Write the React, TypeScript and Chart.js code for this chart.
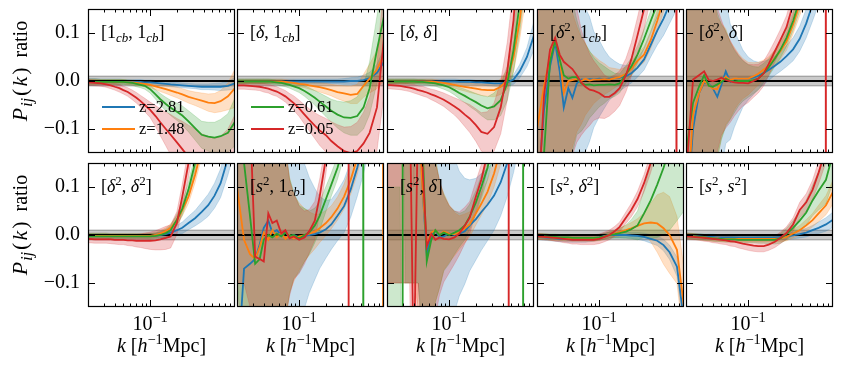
import React, { useEffect, useRef } from 'react';
import { Chart, registerables } from 'chart.js';

Chart.register(...registerables);

// ---------------- data ----------------
// wavenumbers k [h/Mpc]
const K = [0.02, 0.024, 0.028, 0.032, 0.036, 0.04, 0.045, 0.05, 0.056, 0.063, 0.07, 0.078, 0.087, 0.1, 0.115, 0.13, 0.15, 0.17, 0.2, 0.23, 0.27, 0.32, 0.38, 0.45, 0.53, 0.62, 0.75, 0.9];
const X_MIN = 0.02;
const X_MAX = 0.9;
const Y_MIN = -0.15;
const Y_MAX = 0.15;
const Y_TICKS = [-0.1, 0, 0.1];
const X_MAJOR_TICKS = [0.1];
const X_MINOR_TICKS = [0.03, 0.04, 0.05, 0.06, 0.07, 0.08, 0.09, 0.2, 0.3, 0.4, 0.5, 0.6, 0.7, 0.8];
const X_TICK_LABELS = ['10^{−1}'];
const REF_BAND = 0.01;
const PER_MILLE = 1000; // series values below are ratio x 1000
const Z_LABELS = ['z=2.81', 'z=1.48', 'z=0.61', 'z=0.05'];
const LEGEND_PANEL = [0, 0, 1, 1];
const PANEL_LABELS = [
  '[1_{cb}, 1_{cb}]', '[δ, 1_{cb}]', '[δ, δ]', '[δ^{2}, 1_{cb}]', '[δ^{2}, δ]',
  '[δ^{2}, δ^{2}]', '[s^{2}, 1_{cb}]', '[s^{2}, δ]', '[s^{2}, δ^{2}]', '[s^{2}, s^{2}]',
];
// [panel, series, k] where the ratio jumps from +inf to -inf
const POLES = [[3, 3, 0.735], [4, 3, 0.745], [6, 3, 0.36], [6, 2, 0.525], [6, 1, 0.88], [7, 3, 0.467], [7, 2, 0.03], [7, 2, 0.68]];

// panel 0 [1cb,1cb]
const p0_z281 = [-2,-2,-2,-2,-2,-2,-2,-2,-2,-2,-2,-2,-3,-3,-4,-5,-6,-7,-8,-9,-10,-11,-12,-12,-12,-12,-10,-5];
const p0_z281_e = [7,7,6,6,6,6,6,5,5,5,5,5,5,5,5,5,5,5,5,5,5,5,6,6,7,8,9,12];
const p0_z148 = [-2,-2,-2,-2,-2,-2,-2,-2,-3,-3,-4,-5,-6,-8,-11,-14,-17,-20,-24,-28,-33,-37,-41,-45,-46,-42,-32,-15];
const p0_z148_e = [6,6,5,5,5,5,5,5,5,5,5,5,6,6,7,8,9,10,11,12,13,14,16,18,20,22,28,40];
const p0_z061 = [-2,-2,-2,-2,-2,-2,-2,-2,-3,-4,-6,-8,-10,-17,-28,-38,-48,-56,-64,-72,-84,-98,-112,-116,-118,-115,-108,-85];
const p0_z061_e = [6,6,5,5,5,5,5,5,5,5,6,6,7,8,10,12,14,16,18,20,22,25,28,30,32,35,40,50];
const p0_z005 = [-3,-4,-5,-7,-9,-12,-15,-19,-23,-29,-35,-42,-50,-60,-73,-86,-100,-112,-128,-142,-158,-175,-195,-210,-220,-220,-210,-190];
const p0_z005_e = [6,6,6,6,7,7,8,8,9,10,11,12,14,16,22,28,35,42,50,58,66,75,85,95,100,105,110,120];
// panel 1 [delta,1cb]
const p1_z281 = [-1,-1,-1,-1,-1,-1,-1,-1,-1,-1,-1,-1,-1,-1,-1,-1,-1,-1,-1,-1,-1,-1,0,0,2,6,17,40];
const p1_z281_e = [5,5,5,5,5,5,5,5,5,5,5,5,5,5,5,5,5,5,5,5,5,6,7,8,10,12,18,28];
const p1_z148 = [-1,-1,-1,-1,-1,-1,-1,-1,-1,-1,-2,-3,-4,-6,-7,-9,-11,-13,-16,-19,-23,-26,-29,-27,-10,5,24,55];
const p1_z148_e = [5,5,5,5,5,5,5,5,5,5,5,5,6,6,7,8,9,10,11,12,14,16,18,20,24,30,40,55];
const p1_z061 = [-1,-1,-1,-1,-1,-1,-1,-2,-3,-4,-6,-8,-11,-15,-21,-27,-35,-43,-53,-62,-70,-76,-77,-73,-55,-15,65,135];
const p1_z061_e = [5,5,5,5,5,5,5,5,5,6,6,7,8,9,11,13,15,18,21,24,28,32,36,40,45,55,70,90];
const p1_z005 = [-9,-9,-10,-11,-12,-14,-16,-19,-22,-27,-32,-39,-46,-57,-70,-81,-93,-103,-113,-125,-136,-146,-150,-146,-130,-108,-55,90];
const p1_z005_e = [8,8,8,8,8,9,9,10,10,11,12,13,15,17,20,23,27,31,35,40,45,50,55,60,65,75,90,120];
// panel 2 [delta,delta]
const p2_z281 = [-1,-1,-1,-1,-1,-1,-1,-1,-1,-1,-1,-1,-1,-1,-1,-2,-2,-2,-3,-3,-4,-5,-5,-3,3,20,50,95];
const p2_z281_e = [5,5,5,5,5,5,5,5,5,5,5,5,5,5,5,5,5,5,5,5,6,6,7,8,10,14,20,30];
const p2_z148 = [-1,-1,-1,-1,-1,-1,-1,-1,-1,-1,-2,-3,-4,-6,-8,-10,-12,-14,-16,-18,-19,-19,-12,3,50,125,250,400];
const p2_z148_e = [5,5,5,5,5,5,5,5,5,5,5,5,6,6,7,8,9,10,11,12,13,14,16,20,30,40,60,80];
const p2_z061 = [-1,-1,-1,-1,-1,-1,-2,-2,-3,-4,-5,-7,-9,-13,-19,-25,-31,-37,-44,-51,-57,-53,-40,-5,65,160,300,450];
const p2_z061_e = [5,5,5,5,5,5,5,5,5,6,6,7,8,9,10,12,14,16,18,21,24,28,32,36,45,60,80,100];
const p2_z005 = [-8,-9,-10,-12,-14,-16,-19,-21,-24,-28,-31,-35,-39,-46,-53,-60,-70,-78,-92,-106,-110,-96,-55,20,127,300,500,700];
const p2_z005_e = [8,8,8,8,8,9,9,10,10,11,12,13,14,16,18,21,25,29,34,40,46,50,55,60,70,90,120,150];
// panel 3 [delta^2,1cb]
const p3_z281 = [-250,-60,30,80,20,-55,-15,-35,-5,3,2,4,3,5,4,5,6,7,10,16,28,45,75,105,130,160,200,260];
const p3_z281_e = [400,400,400,400,400,400,400,250,200,170,150,130,100,80,60,45,35,28,22,20,20,22,25,30,35,40,50,60];
const p3_z148 = [-100,-10,50,85,50,-25,0,2,4,0,4,1,3,3,4,3,6,8,15,25,42,55,85,125,170,220,280,350];
const p3_z148_e = [400,400,400,400,400,400,200,140,110,90,75,60,50,40,32,25,20,16,14,14,15,16,18,22,26,30,40,50];
const p3_z061 = [-300,-150,40,85,45,12,5,8,8,-5,-8,-7,-9,-8,-8,-7,-8,-5,14,30,55,88,125,160,220,280,350,400];
const p3_z061_e = [400,400,400,400,400,400,220,160,120,100,85,70,58,46,38,30,24,20,18,18,18,20,22,26,30,35,45,55];
const p3_z005 = [-300,-30,65,90,55,40,32,25,12,-3,-12,-18,-20,-25,-33,-33,-25,-15,12,45,95,150,220,300,400,500,-500,-400];
const p3_z005_e = [400,400,400,400,400,400,250,180,140,110,90,75,62,52,45,40,38,36,35,35,38,42,48,55,60,70,80,90];
// panel 4 [delta^2,delta]
const p4_z281 = [-300,-100,-26,-3,-6,-15,-33,-8,20,-2,4,5,5,5,7,11,17,23,32,40,52,66,88,120,160,200,260,320];
const p4_z281_e = [400,400,400,400,400,300,220,180,150,120,100,80,60,45,35,28,24,22,20,20,22,24,26,30,35,40,50,60];
const p4_z148 = [-300,-70,-26,0,-8,-16,-17,0,9,2,5,5,5,5,10,15,24,32,48,62,82,118,160,200,260,320,400,450];
const p4_z148_e = [400,400,400,400,300,200,150,120,100,80,65,52,42,34,28,24,20,18,17,17,18,20,24,28,32,38,45,55];
const p4_z061 = [-150,-45,-12,12,-10,-12,-7,-2,5,0,-1,0,0,0,2,5,17,28,47,65,90,125,170,230,300,380,450,500];
const p4_z061_e = [400,400,400,400,300,200,150,120,100,80,65,52,42,34,28,24,20,18,17,17,18,20,24,28,32,38,45,55];
const p4_z005 = [-200,3,12,20,2,0,3,7,2,-1,-3,-4,-4,-5,0,5,16,35,62,85,112,160,230,300,380,450,-450,-400];
const p4_z005_e = [400,400,400,400,300,200,150,120,100,85,70,58,48,40,34,30,26,24,22,22,24,26,30,34,40,46,55,65];
// panel 5 [delta^2,delta^2]
const p5_z281 = [-2,-2,-2,-2,-2,-2,-2,-2,-2,-2,-2,-2,-2,-2,-1,0,2,5,10,15,25,35,48,62,82,108,160,220];
const p5_z281_e = [6,6,6,6,5,5,5,5,5,5,5,5,5,5,5,6,7,8,10,12,14,16,20,23,26,30,35,40];
const p5_z148 = [-2,-2,-2,-2,-2,-2,-2,-2,-2,-2,-2,-2,-2,-2,0,3,8,15,30,52,80,125,180,250,330,400,480,550];
const p5_z148_e = [6,6,6,6,5,5,5,5,5,5,5,5,5,5,5,6,7,8,10,12,14,16,18,20,24,28,34,40];
const p5_z061 = [-3,-3,-3,-3,-3,-3,-3,-3,-3,-3,-3,-3,-3,-3,-2,0,4,10,32,55,95,150,220,300,380,450,520,560];
const p5_z061_e = [6,6,6,6,5,5,5,5,5,5,5,5,5,6,6,7,8,10,12,14,16,18,20,24,28,32,38,45];
const p5_z005 = [-8,-9,-9,-9,-9,-10,-10,-10,-11,-11,-12,-12,-12,-12,-11,-9,-6,-3,25,80,150,240,330,420,500,560,620,680];
const p5_z005_e = [8,8,8,8,9,9,10,10,11,12,13,14,16,18,20,22,24,24,24,26,30,35,40,45,50,55,60,70];
// panel 6 [s^2,1cb]
const p6_z281 = [-300,-70,-60,-50,-20,15,30,5,10,0,5,-3,0,-5,-2,0,2,5,12,22,40,60,95,140,190,250,300,350];
const p6_z281_e = [400,400,400,400,400,400,400,400,400,350,300,260,220,180,150,120,95,75,60,52,52,55,58,60,62,65,68,70];
const p6_z148 = [100,-10,-40,-50,-25,5,-10,10,-5,5,-8,0,-7,-3,0,3,7,14,25,37,55,80,115,160,220,300,400,-400];
const p6_z148_e = [400,400,400,400,400,400,400,400,400,250,180,120,90,70,55,45,36,30,26,24,24,26,30,34,40,46,55,65];
const p6_z061 = [300,150,40,-60,-50,-10,0,-5,3,-3,5,-2,0,-8,0,5,20,40,75,105,140,190,260,350,-350,-300,-250,-250];
const p6_z061_e = [400,400,400,400,400,400,400,400,400,250,180,120,90,70,55,45,36,30,26,24,24,26,30,34,40,46,55,65];
const p6_z005 = [300,300,250,-45,-50,-55,45,25,30,3,10,-7,-3,-10,-5,8,30,80,160,250,320,400,-400,-350,-300,-300,-300,-300];
const p6_z005_e = [400,400,400,400,400,400,400,400,400,250,180,120,90,70,55,45,40,36,32,30,30,32,35,40,45,50,55,65];
// panel 7 [s^2,delta]
const p7_z281 = [300,300,300,300,300,300,300,100,-40,2,10,-5,-3,3,0,3,8,20,33,48,63,82,110,150,200,260,320,380];
const p7_z281_e = [400,400,400,400,400,400,400,400,400,400,350,300,250,200,160,130,110,95,85,80,75,72,70,70,70,70,70,70];
const p7_z148 = [300,300,300,300,300,300,250,100,-20,5,10,0,7,3,2,5,14,22,45,65,90,128,180,250,330,400,480,550];
const p7_z148_e = [400,400,400,400,400,400,400,400,400,300,150,110,80,60,45,35,30,26,24,24,25,28,32,36,40,45,50,60];
const p7_z061 = [-300,-300,-300,300,300,300,300,200,-55,-10,10,0,5,0,5,10,20,38,68,100,140,200,280,350,420,500,-500,-400];
const p7_z061_e = [400,400,400,400,400,400,400,400,400,300,150,110,80,60,45,35,30,26,24,24,25,28,32,36,40,45,50,60];
const p7_z005 = [300,300,300,300,300,-300,300,150,-24,2,-10,-5,-8,-9,-5,3,20,36,80,115,170,250,340,430,-450,-400,-350,-300];
const p7_z005_e = [400,400,400,400,400,400,400,400,400,300,160,120,90,70,55,45,38,34,32,32,34,38,42,48,55,60,65,70];
// panel 8 [s^2,delta^2]
const p8_z281 = [-4,-5,-6,-7,-8,-8,-9,-9,-9,-9,-9,-8,-7,-5,-2,0,0,0,0,-1,-2,-4,-8,-12,-21,-36,-66,-180];
const p8_z281_e = [6,6,6,6,6,6,6,6,6,6,6,6,6,6,6,6,6,6,6,6,7,8,9,10,12,15,20,30];
const p8_z148 = [-3,-4,-5,-6,-6,-7,-7,-7,-7,-7,-7,-7,-7,-6,-3,0,3,6,10,14,19,24,26,24,14,0,-31,-150];
const p8_z148_e = [6,6,6,6,6,6,6,6,6,6,6,6,6,6,6,6,7,8,10,12,15,22,40,60,75,80,70,80];
const p8_z061 = [-3,-3,-4,-4,-5,-5,-5,-6,-6,-6,-6,-6,-6,-5,-3,0,2,4,7,12,20,45,72,105,140,180,230,280];
const p8_z061_e = [6,6,6,6,6,6,6,6,6,6,6,6,6,6,6,7,8,10,14,20,30,50,80,110,140,170,200,230];
const p8_z005 = [-3,-4,-5,-6,-7,-8,-9,-10,-10,-10,-10,-10,-10,-8,-4,0,8,17,36,52,75,108,150,200,250,300,360,420];
const p8_z005_e = [6,6,6,7,7,8,8,9,9,10,10,10,10,10,10,10,10,10,12,14,16,18,20,22,24,28,32,36];
// panel 9 [s^2,s^2]
const p9_z281 = [-2,-3,-3,-4,-4,-4,-5,-5,-5,-5,-5,-5,-5,-5,-5,-5,-5,-5,-5,-4,-3,-1,2,5,10,15,22,32];
const p9_z281_e = [6,6,6,6,6,6,6,6,6,6,6,6,6,6,6,6,6,6,6,6,6,7,8,9,10,12,14,16];
const p9_z148 = [-2,-3,-4,-5,-6,-7,-7,-8,-8,-8,-8,-8,-8,-8,-8,-8,-8,-8,-8,-7,-4,3,10,20,31,45,62,90];
const p9_z148_e = [6,6,6,6,6,6,6,6,6,6,6,6,6,6,6,6,6,6,6,7,8,9,10,12,14,17,20,25];
const p9_z061 = [-2,-3,-4,-5,-6,-7,-8,-8,-9,-9,-9,-10,-10,-10,-10,-10,-10,-10,-10,-7,2,15,30,47,72,92,115,170];
const p9_z061_e = [6,6,6,6,6,6,6,6,6,6,6,6,6,6,6,7,7,8,9,10,12,15,20,26,32,40,50,60];
const p9_z005 = [-3,-4,-5,-6,-7,-8,-9,-10,-11,-13,-14,-16,-18,-20,-22,-23,-23,-20,-14,-6,4,22,52,68,94,130,180,240];
const p9_z005_e = [6,6,6,7,7,8,8,9,9,10,10,11,11,12,12,12,12,12,12,12,13,14,16,18,20,24,28,34];

const PANEL_SERIES = [
  [[p0_z281, p0_z281_e], [p0_z148, p0_z148_e], [p0_z061, p0_z061_e], [p0_z005, p0_z005_e]],
  [[p1_z281, p1_z281_e], [p1_z148, p1_z148_e], [p1_z061, p1_z061_e], [p1_z005, p1_z005_e]],
  [[p2_z281, p2_z281_e], [p2_z148, p2_z148_e], [p2_z061, p2_z061_e], [p2_z005, p2_z005_e]],
  [[p3_z281, p3_z281_e], [p3_z148, p3_z148_e], [p3_z061, p3_z061_e], [p3_z005, p3_z005_e]],
  [[p4_z281, p4_z281_e], [p4_z148, p4_z148_e], [p4_z061, p4_z061_e], [p4_z005, p4_z005_e]],
  [[p5_z281, p5_z281_e], [p5_z148, p5_z148_e], [p5_z061, p5_z061_e], [p5_z005, p5_z005_e]],
  [[p6_z281, p6_z281_e], [p6_z148, p6_z148_e], [p6_z061, p6_z061_e], [p6_z005, p6_z005_e]],
  [[p7_z281, p7_z281_e], [p7_z148, p7_z148_e], [p7_z061, p7_z061_e], [p7_z005, p7_z005_e]],
  [[p8_z281, p8_z281_e], [p8_z148, p8_z148_e], [p8_z061, p8_z061_e], [p8_z005, p8_z005_e]],
  [[p9_z281, p9_z281_e], [p9_z148, p9_z148_e], [p9_z061, p9_z061_e], [p9_z005, p9_z005_e]],
];

// ---------------- layout / style ----------------
const W = 843;
const H = 372;
const COL_LEFT = [88, 237, 387, 537, 686];
const ROW_TOP = [9, 163];
const PANEL_W = 147;
const PANEL_H = 144;
const COLORS = [[31, 119, 180], [255, 127, 14], [44, 160, 44], [214, 39, 40]];
const BAND_ALPHA = 0.24;
const SERIF = '"Liberation Serif", "Times New Roman", serif';
const POLE_Y = 900;

type Seg = { t: string; it?: boolean; sc?: 'sub' | 'sup'; gap?: number; size?: number };
const Y_TITLE: Seg[] = [
  { t: 'P', it: true, size: 22 }, { t: '', gap: 1 }, { t: 'ij', it: true, sc: 'sub', size: 22 }, { t: '', gap: 2 },
  { t: '(', size: 22 }, { t: '', gap: 2 }, { t: 'k', it: true, size: 22 }, { t: '', gap: 2 }, { t: ')', size: 22 }, { t: '', gap: 10 }, { t: 'ratio' },
];
const X_TITLE: Seg[] = [{ t: 'k', it: true }, { t: '', gap: 5 }, { t: '[' }, { t: 'h', it: true }, { t: '−1', sc: 'sup' }, { t: 'Mpc]' }];

const rgba = (c: number[], a: number) => `rgba(${c[0]},${c[1]},${c[2]},${a})`;

function parseMath(s: string): Seg[] {
  const out: Seg[] = [];
  const push = (ch: string, sc?: 'sub' | 'sup') => {
    const it = /\p{L}/u.test(ch);
    const last = out[out.length - 1];
    if (last && !!last.it === it && last.sc === sc) last.t += ch;
    else out.push({ t: ch, it, sc });
  };
  let i = 0;
  while (i < s.length) {
    const c = s[i];
    if ((c === '_' || c === '^') && s[i + 1] === '{') {
      const j = s.indexOf('}', i);
      for (const ch of s.slice(i + 2, j)) push(ch, c === '_' ? 'sub' : 'sup');
      i = j + 1;
    } else {
      push(c);
      i++;
    }
  }
  return out;
}

function drawRich(ctx: CanvasRenderingContext2D, segs: Seg[], x: number, y: number, size: number, align: 'left' | 'center') {
  const parts = segs.map((s) => {
    const base = s.size || size;
    const sz = s.sc ? base * 0.72 : base;
    const font = `${s.it ? 'italic ' : ''}${sz}px ${SERIF}`;
    ctx.font = font;
    const dy = s.sc === 'sup' ? -base * 0.4 : s.sc === 'sub' ? base * 0.24 : 0;
    return { t: s.t, font, dy, w: s.gap !== undefined ? s.gap : ctx.measureText(s.t).width };
  });
  const total = parts.reduce((a, p) => a + p.w, 0);
  let cx = align === 'center' ? x - total / 2 : x;
  ctx.textAlign = 'left';
  ctx.textBaseline = 'alphabetic';
  ctx.fillStyle = '#000';
  for (const p of parts) {
    if (p.t) {
      ctx.font = p.font;
      ctx.fillText(p.t, cx, y + p.dy);
    }
    cx += p.w;
  }
}

function buildPoints(mean: number[], err: number[] | null, sign: number, poles: number[]) {
  const out: { x: number; y: number }[] = [];
  for (let i = 0; i < K.length; i++) {
    if (i > 0) {
      for (const kp of poles) {
        if (kp > K[i - 1] && kp <= K[i]) {
          const eA = err ? sign * err[i - 1] : 0;
          const eB = err ? sign * err[i] : 0;
          out.push({ x: kp, y: (Math.sign(mean[i - 1]) * POLE_Y + eA) / PER_MILLE });
          out.push({ x: kp, y: (Math.sign(mean[i]) * POLE_Y + eB) / PER_MILLE });
        }
      }
    }
    out.push({ x: K[i], y: (mean[i] + (err ? sign * err[i] : 0)) / PER_MILLE });
  }
  return out;
}

function makeChart(canvas: HTMLCanvasElement, idx: number) {
  const row = Math.floor(idx / 5);
  const col = idx % 5;
  const left = COL_LEFT[col];
  const top = ROW_TOP[row];
  const right = left + PANEL_W;
  const bottom = top + PANEL_H;
  const yAxisW = col === 0 ? 60 : 0;
  const series = PANEL_SERIES[idx];
  const polesFor = (s: number) => POLES.filter((p) => p[0] === idx && p[1] === s).map((p) => p[2]);

  const datasets: any[] = [];
  datasets.push({ data: [{ x: X_MIN, y: REF_BAND }, { x: X_MAX, y: REF_BAND }], fill: '+1', backgroundColor: 'rgba(128,128,128,0.42)', borderColor: 'rgba(90,90,90,0.6)', borderWidth: 1, order: 30 });
  datasets.push({ data: [{ x: X_MIN, y: -REF_BAND }, { x: X_MAX, y: -REF_BAND }], fill: false, borderColor: 'rgba(90,90,90,0.6)', borderWidth: 1, order: 30 });
  series.forEach(([m, e], s) => {
    const poles = polesFor(s);
    const c = COLORS[s];
    datasets.push({ data: buildPoints(m, e, 1, poles), fill: '+1', backgroundColor: rgba(c, BAND_ALPHA), borderColor: rgba(c, 0.25), borderWidth: 0.8, order: 20 - s });
    datasets.push({ data: buildPoints(m, e, -1, poles), fill: false, borderColor: rgba(c, 0.25), borderWidth: 0.8, order: 20 - s });
  });
  datasets.push({ data: [{ x: X_MIN, y: 0 }, { x: X_MAX, y: 0 }], fill: false, borderColor: '#000', borderWidth: 1.8, order: 10 });
  series.forEach(([m], s) => {
    datasets.push({ data: buildPoints(m, null, 0, polesFor(s)), fill: false, borderColor: rgba(COLORS[s], 1), borderWidth: 1.8, order: 5 - s });
  });

  const deco = {
    id: 'deco',
    afterDatasetsDraw(chart: any) {
      const ctx: CanvasRenderingContext2D = chart.ctx;
      const a = chart.chartArea;
      const xs = chart.scales.x;
      const ys = chart.scales.y;
      ctx.save();
      // clear the hairline of data that may spill just outside the frame
      ctx.clearRect(a.left - 3, a.top - 3, a.right - a.left + 6, 3);
      ctx.clearRect(a.left - 3, a.bottom, a.right - a.left + 6, 3);
      ctx.clearRect(a.left - 3, a.top, 3, a.bottom - a.top);
      ctx.clearRect(a.right, a.top, 3, a.bottom - a.top);
      ctx.strokeStyle = '#000';
      ctx.lineWidth = 1;
      ctx.beginPath();
      const xt = (v: number, len: number) => {
        const px = Math.round(xs.getPixelForValue(v)) + 0.5;
        ctx.moveTo(px, a.bottom); ctx.lineTo(px, a.bottom - len);
        ctx.moveTo(px, a.top); ctx.lineTo(px, a.top + len);
      };
      X_MINOR_TICKS.forEach((v) => xt(v, 3.5));
      X_MAJOR_TICKS.forEach((v) => xt(v, 7));
      Y_TICKS.forEach((v) => {
        const py = Math.round(ys.getPixelForValue(v)) + 0.5;
        ctx.moveTo(a.left, py); ctx.lineTo(a.left + 7, py);
        ctx.moveTo(a.right, py); ctx.lineTo(a.right - 7, py);
      });
      ctx.stroke();
      ctx.lineWidth = 1.2;
      ctx.strokeRect(a.left + 0.5, a.top + 0.5, a.right - a.left - 1, a.bottom - a.top - 1);

      drawRich(ctx, parseMath(PANEL_LABELS[idx]), a.left + 13, a.top + 29, 18, 'left');

      let r = 0;
      LEGEND_PANEL.forEach((p, s) => {
        if (p !== idx) return;
        const y = a.top + 98 + r * 22;
        ctx.strokeStyle = rgba(COLORS[s], 1);
        ctx.lineWidth = 2;
        ctx.beginPath();
        ctx.moveTo(a.left + 14, y);
        ctx.lineTo(a.left + 47, y);
        ctx.stroke();
        ctx.fillStyle = '#000';
        ctx.font = `16.5px ${SERIF}`;
        ctx.textAlign = 'left';
        ctx.textBaseline = 'middle';
        ctx.fillText(Z_LABELS[s], a.left + 51, y + 1);
        r++;
      });

      if (col === 0) {
        ctx.save();
        ctx.translate(27, (a.top + a.bottom) / 2 - 10);
        ctx.rotate(-Math.PI / 2);
        drawRich(ctx, Y_TITLE, 0, 0, 20, 'center');
        ctx.restore();
      }
      if (row === 1) {
        X_MAJOR_TICKS.forEach((v, i) => drawRich(ctx, parseMath(X_TICK_LABELS[i]), xs.getPixelForValue(v), a.bottom + 23, 20, 'center'));
        drawRich(ctx, X_TITLE, (a.left + a.right) / 2, a.bottom + 45, 20, 'center');
      }
      ctx.restore();
    },
  };

  return new Chart(canvas, {
    type: 'line',
    data: { datasets },
    plugins: [deco],
    options: {
      responsive: false,
      animation: false,
      devicePixelRatio: 1,
      events: [],
      layout: { padding: { left: left - yAxisW, top, right: W - right, bottom: H - bottom } },
      elements: { point: { radius: 0 }, line: { tension: 0 } },
      plugins: { legend: { display: false }, tooltip: { enabled: false } },
      scales: {
        x: { type: 'logarithmic', min: X_MIN, max: X_MAX, bounds: 'data', display: false },
        y: {
          type: 'linear', min: Y_MIN, max: Y_MAX, bounds: 'data', display: col === 0,
          afterFit: (s: any) => { s.width = yAxisW; s.paddingTop = 0; s.paddingBottom = 0; },
          afterBuildTicks: (s: any) => { s.ticks = Y_TICKS.map((v) => ({ value: v })); },
          ticks: {
            padding: 8, color: '#000', font: { family: SERIF, size: 20 },
            callback: (v: any) => (v === 0 ? '0.0' : (v < 0 ? '−' : '') + Math.abs(v).toFixed(1)),
          },
          grid: { display: false, drawTicks: false },
          border: { display: false },
        },
      },
    } as any,
  });
}

export default function App() {
  const wrap = useRef<HTMLDivElement>(null);
  useEffect(() => {
    const canvases = Array.from(wrap.current!.querySelectorAll('canvas')) as HTMLCanvasElement[];
    const charts = canvases.map((cv, i) => makeChart(cv, i));
    return () => charts.forEach((c) => c.destroy());
  }, []);
  return (
    <div ref={wrap} style={{ position: 'fixed', left: 0, top: 0, width: W, height: H, background: '#fff', overflow: 'hidden' }}>
      {PANEL_LABELS.map((_, i) => (
        <canvas key={i} width={W} height={H} style={{ position: 'absolute', left: 0, top: 0, width: W, height: H }} />
      ))}
    </div>
  );
}
